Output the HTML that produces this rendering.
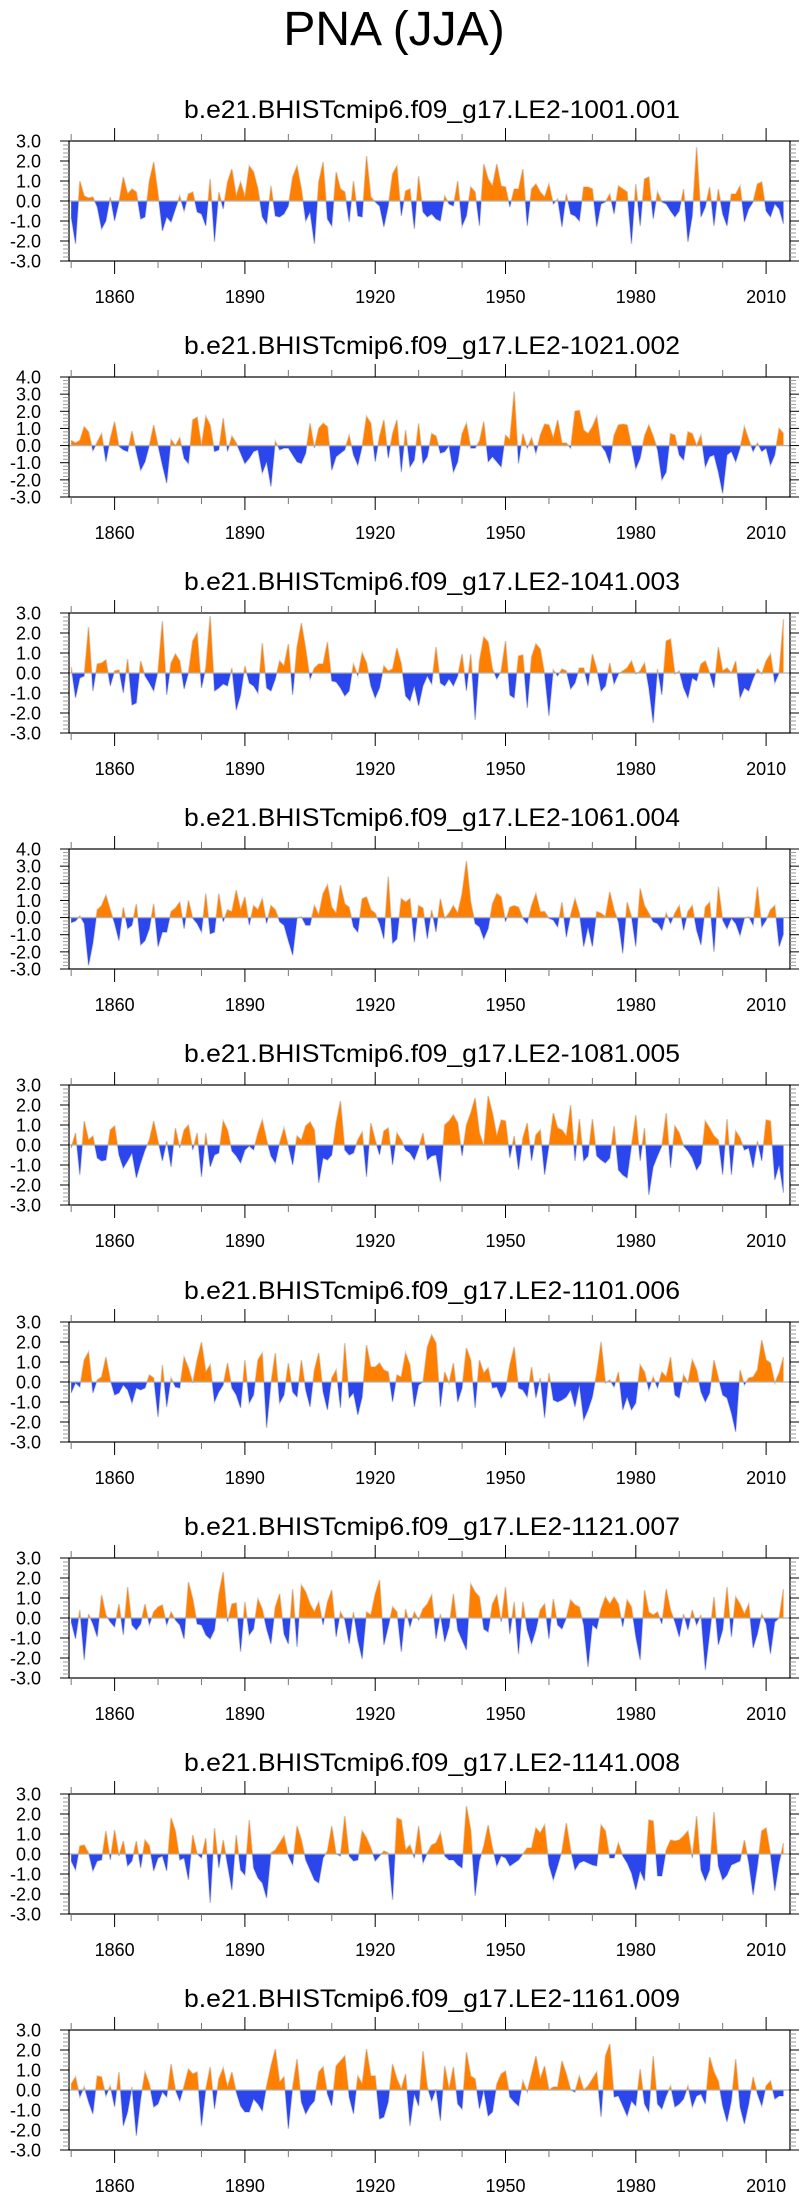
<!DOCTYPE html>
<html><head><meta charset="utf-8">
<style>
html,body{margin:0;padding:0;background:#fff;}
svg{display:block;}
text{font-family:"Liberation Sans",Arial,sans-serif;fill:#000;}
</style></head>
<body>
<svg id="chart" width="811" height="2201" viewBox="0 0 811 2201" xmlns="http://www.w3.org/2000/svg">
<text x="394" y="45" font-size="48" text-anchor="middle">PNA (JJA)</text>
</svg>
<script>
const startYear = 1850;
const yearTicks = [1860, 1890, 1920, 1950, 1980, 2010];
const panelTitles = [
 "b.e21.BHISTcmip6.f09_g17.LE2-1001.001","b.e21.BHISTcmip6.f09_g17.LE2-1021.002",
 "b.e21.BHISTcmip6.f09_g17.LE2-1041.003","b.e21.BHISTcmip6.f09_g17.LE2-1061.004",
 "b.e21.BHISTcmip6.f09_g17.LE2-1081.005","b.e21.BHISTcmip6.f09_g17.LE2-1101.006",
 "b.e21.BHISTcmip6.f09_g17.LE2-1121.007","b.e21.BHISTcmip6.f09_g17.LE2-1141.008",
 "b.e21.BHISTcmip6.f09_g17.LE2-1161.009"];
const yMaxes = [3,4,3,4,3,3,3,3,3];
const yMins = [-3,-3,-3,-3,-3,-3,-3,-3,-3];
const s1 = [-0.8,-2.15,1.0,0.25,0.15,0.2,-0.3,-1.4,-1.0,0.2,-1.0,-0.05,1.2,0.35,0.6,0.45,-0.9,-0.8,1.0,1.95,0.35,-1.5,-0.8,-1.05,-0.4,0.25,-0.5,0.35,0.45,-0.55,-0.65,-1.25,1.1,-2.05,0.45,-0.4,0.95,1.6,0.25,0.95,0.2,1.75,1.45,0.6,-0.8,-1.15,0.75,-0.75,-0.8,-0.65,-0.25,1.2,1.75,0.6,-1.0,-0.55,-2.15,0.95,1.95,-0.9,-1.25,1.45,0.6,0.45,-1.05,1.0,-0.75,-0.8,2.25,0.2,-0.05,-0.25,-1.3,-0.25,1.35,1.75,-0.75,0.5,0.6,-1.4,1.25,-0.55,-0.8,-0.65,-0.9,-1.0,0.25,-0.15,-0.25,1.0,-1.25,-0.75,0.7,0.45,-1.25,1.85,1.1,0.75,1.85,0.75,0.7,-0.3,0.6,0.6,1.6,-1.25,0.6,0.85,0.45,0.2,0.85,-0.15,0.1,-1.3,0.35,-0.65,-0.75,-1.0,0.7,0.7,0.6,-1.3,-0.15,-0.05,0.35,-0.65,0.75,0.6,0.45,-2.15,0.85,-1.25,1.1,1.2,-0.9,0.45,-0.05,-0.15,-0.5,-0.8,-0.5,0.6,-2.05,-0.75,2.7,-0.8,-0.3,0.7,-1.25,0.6,-0.65,-1.25,0.35,0.35,0.75,-1.05,-0.4,-0.05,0.85,0.95,-0.5,-0.8,-0.15,-0.4,-1.15];
const s2 = [0.3,0.15,0.3,1.1,0.8,-0.3,0.2,0.7,-0.95,0.4,1.4,-0.05,-0.25,-0.35,0.85,-0.35,-1.45,-0.95,0,1.2,0,-1.15,-2.2,0.35,0,0.45,-0.75,-1.05,1.5,1.65,0,1.7,1.2,-0.35,-0.25,1.6,-0.35,0.55,0.15,-0.45,-1.05,-0.75,-0.35,-0.25,-1.6,-0.95,-2.4,0.25,-0.25,-0.15,-0.15,-0.55,-0.95,-1.05,-0.45,1.3,-0.15,1.0,1.3,1.1,-1.45,-0.65,-0.45,-0.25,0.6,-0.55,-1.15,-0.05,1.7,1.3,-0.95,0.55,1.5,-0.75,0.7,1.5,-1.55,0.9,-1.25,-0.85,1.3,-1.05,-0.65,0.7,0.55,-0.45,-0.35,0,-1.55,-0.95,0.7,1.3,-0.15,-0.15,0.25,1.4,-0.95,-0.65,-0.95,-1.25,0.6,0.35,3.15,-1.05,0.7,-0.15,0.45,-0.45,0.6,1.25,1.2,0.45,1.5,0.15,0.15,-0.15,2.0,2.05,0.9,0.7,1.1,1.7,0,-0.35,-1.05,0.6,1.2,1.25,1.2,0,-1.35,-0.75,0.55,1.2,0.55,-0.25,-2.0,-1.55,0.7,0.6,-0.55,-0.85,0.8,0.7,0,0.6,-1.25,-0.65,-0.55,-1.55,-2.8,-0.55,-0.35,-0.95,-0.15,1.1,0.35,-0.35,0.15,-0.35,-0.15,-1.15,-0.55,1.0,0.7];
const s3 = [0.3,-1.25,-0.25,-0.15,2.3,-0.9,0.45,0.5,0.65,-0.65,0.1,0.15,-1.0,0.7,-1.6,-1.5,0.6,-0.15,-0.5,-0.9,0.1,2.6,-1.1,0.5,0.95,0.6,-0.8,0,1.6,2.0,-0.75,0.25,2.85,-0.9,-0.75,-0.55,-0.65,0.25,-1.85,-1.1,0.35,-0.5,-0.65,-1.0,1.5,-0.75,-0.9,-0.3,0.6,0.35,1.45,-1.1,1.3,2.5,1.2,-0.3,0.25,0.45,0.45,1.55,-0.4,-0.45,-0.75,-1.15,-0.9,0.45,-0.15,1.0,0.5,-0.65,-1.25,-0.75,0.35,0.1,0.2,1.25,0.45,-1.15,-1.4,-0.65,-1.65,-0.65,-0.15,-0.55,1.3,-0.5,-0.65,-0.3,-0.65,-0.15,0.95,-0.9,0.95,-2.35,0.6,1.8,1.55,0.2,-0.3,0.1,1.6,-1.1,-1.25,0.85,0.9,-1.75,0.8,1.45,1.2,-0.05,-2.15,0.15,-0.15,0.2,0.1,-0.8,-0.5,0.25,0.25,-0.65,0.95,0.2,-0.9,-0.65,0.5,-0.55,-0.05,0.1,0.25,0.6,-0.05,0.1,0.5,-0.75,-2.5,0.2,-1.1,1.6,1.7,-0.05,0.1,-0.75,-1.25,-0.25,-0.4,0.45,0.6,0,-0.75,1.3,0.1,0.25,0,0.6,-1.25,-0.75,-0.9,-0.3,0.2,-0.05,0.6,0.95,-0.5,0,2.7];
const s4 = [-0.3,-0.2,0.1,-0.35,-2.8,-1.5,0.45,0.7,1.3,0.45,-0.35,-1.35,0.6,-0.65,-0.45,0.8,-1.6,-1.35,-0.65,0.8,-1.7,-0.85,-0.85,0.35,0.55,0.9,-0.65,1.0,-0.05,-0.35,-0.85,1.4,-0.95,-0.85,1.4,-0.25,0.45,0.35,1.6,0.45,1.2,-0.45,0.7,0.45,1.1,-0.35,0.7,0.45,-0.25,-0.45,-1.35,-2.2,-0.05,0.05,-0.45,-0.45,0.7,0.15,1.4,1.9,0.6,0.25,1.9,0.8,0.6,-0.55,-0.85,1.1,1.2,0.45,0.25,-0.35,-1.25,2.4,-1.5,-1.25,1.1,0.9,1.1,-1.45,0.7,0.55,-1.25,0.45,-0.85,1.1,-0.05,0.25,0.7,0.25,1.4,3.3,0.9,-0.35,-0.55,-1.25,-0.65,0.8,1.4,1.2,-0.25,0.6,0.7,0.6,-0.05,-0.35,0.7,1.4,0.35,0.35,-0.05,-0.15,-0.55,0.9,-1.15,0.15,1.1,0.25,-1.7,-0.55,-1.7,0.35,0.25,0.05,1.5,0.45,-0.25,-2.1,0.9,0.05,-1.7,1.7,0.7,0.25,-0.25,-0.35,-0.75,0.25,-0.35,0.25,0.7,-0.75,0.35,0.7,-0.75,-1.6,0.6,0.9,-2.0,1.8,-0.15,-0.65,-0.05,-0.35,-1.05,-0.05,0.05,-0.45,1.8,-0.55,-0.15,0.45,0.7,-1.7,-0.95];
const s5 = [-0.15,0.6,-1.5,1.2,0.25,0.45,-0.65,-0.8,-0.75,0.75,0.95,-0.5,-1.15,-0.8,-0.4,-1.65,-0.9,-0.25,0.25,1.2,0.2,-0.8,0.2,-1.1,0.85,-0.15,0.75,1.0,-0.25,0.6,-1.6,0.6,-1.1,-0.5,-0.4,1.2,0.75,-0.3,-0.55,-0.9,-0.25,-0.05,-0.25,0.6,1.25,0.25,-0.55,-0.9,0.1,0.85,-0.05,-1.0,0.45,0.25,0.95,1.15,0.75,-1.9,-0.65,-0.75,-0.5,1.1,2.2,-0.25,-0.5,-0.4,0.25,0.65,-1.6,1.1,0.25,-0.5,0.7,0.85,-1.0,0.6,0.25,-0.25,-0.4,-0.75,-0.15,0.6,-0.75,-0.55,-0.5,-1.85,1.0,1.2,1.5,1.1,-0.55,1.0,1.6,2.35,0.6,-0.05,2.45,1.6,0.45,1.25,1.2,-0.65,0.45,-1.25,0.35,1.1,-0.8,0.5,0.75,-1.5,-0.05,1.6,0.85,0.75,0.45,2.0,-0.8,1.3,-0.8,-0.55,1.3,-0.55,-0.75,-0.9,-0.65,0.95,-1.25,-1.5,-1.65,-0.05,1.5,-0.8,0.85,-2.5,-1.1,-0.55,-0.05,1.6,-1.15,0.95,0.6,-0.05,-0.3,-0.65,-1.25,-0.9,1.2,0.85,0.45,0.25,-1.5,1.3,-1.5,0.7,0.35,-0.25,-0.15,-1.15,0.2,-0.8,1.25,1.2,-1.75,-1.0,-2.4];
const s6 = [-0.55,-0.05,-0.25,1.1,1.5,-0.55,0.1,0.25,1.25,0.1,-0.65,-0.55,-0.15,-0.4,-1.05,-0.3,-0.4,-0.3,0.35,0.2,-1.75,0.85,-1.25,0.2,-0.25,-0.3,1.25,0.7,-0.05,1.1,2.0,0.5,0.85,-1.0,-0.5,-0.15,0.95,-0.3,-0.65,-1.3,1.1,-1.05,-0.65,1.1,1.45,-2.3,-0.05,1.45,-1.05,-0.65,0.95,-0.5,-0.75,1.1,-0.4,-1.25,0.6,1.45,-0.5,-1.4,0.2,0.6,-1.3,1.95,-0.8,-0.55,-1.65,-0.75,1.85,0.75,0.75,0.95,0.6,0.5,-1.0,0.35,0.25,1.45,0.85,-1.25,-0.15,0,1.75,2.35,1.95,-1.25,0.5,-0.05,0.95,-1.0,-0.3,1.7,1.1,-1.3,1.1,0.45,0.7,-0.3,-0.25,-0.8,-0.4,0.85,1.75,-0.3,-0.4,-0.75,0.75,-0.8,0.2,-1.8,0.45,-0.9,-1.0,-0.9,-0.75,-0.4,-1.25,-0.15,-1.9,-1.4,-0.75,0.45,2.0,-0.05,0.1,-0.25,0.5,-1.4,-0.75,-1.4,-1.05,0.85,0.5,-0.4,0.25,-0.3,0.5,0.25,1.25,-0.65,-0.8,0.35,-0.05,1.1,0.6,-0.5,-1.0,-0.55,1.1,0.2,-0.65,-0.8,-1.55,-2.5,0.6,-0.15,0.2,0.25,0.6,2.1,1.1,0.95,-0.05,0.45,1.25];
const s7 = [-0.2,-1.05,0.4,-2.1,0.2,-0.3,-0.95,1.15,0.15,-0.2,-0.45,0.7,-0.85,1.55,-0.35,-0.6,-0.3,0.7,-0.35,0.3,0.55,0.65,-0.35,0.3,-0.1,-0.35,-1.05,1.8,0.95,-0.3,-0.35,-0.85,-1.05,-0.6,1.2,2.3,-0.2,0.7,0.75,-1.7,0.8,-0.85,-0.55,0.95,0.45,-0.55,-1.3,0.55,1.2,-0.8,-1.3,1.45,-1.45,1.65,1.3,0.7,0.3,0.8,-0.35,0.8,1.4,-0.95,0.3,-0.1,-1.3,0.3,-1.1,-2.05,0.3,0.15,1.2,1.9,-1.35,-0.45,0.55,0.3,-1.7,0.45,-0.45,0.3,-0.1,0.45,0.7,1.15,-1.05,0.2,-1.2,-0.45,1.2,-0.6,-1.1,-1.6,1.7,1.3,1.05,-0.55,-0.7,0.7,1.15,-0.2,1.55,-0.8,0.8,-1.8,0.8,-0.6,-1.3,-0.6,0.4,0.7,-1.05,0.95,-0.35,-0.55,0,0.9,0.65,0.55,-0.35,-2.45,-0.35,-0.55,0.45,1.05,0.7,1.05,0.7,-0.45,0.9,0.55,-0.95,-2.1,1.4,0.3,0.15,0.3,-0.3,1.45,0.4,-0.2,-0.95,0.2,-0.6,0.4,-0.35,0.15,-2.6,-0.8,1.05,-1.35,-0.6,1.55,-0.95,1.05,0.7,0.2,0.7,-1.5,-0.8,0.2,-0.3,-1.8,-0.2,0,1.45];
const s8 = [-0.35,-0.8,0.4,0.45,0.05,-0.85,-0.35,-0.3,1.15,-0.3,1.2,-0.1,0.65,-0.6,-0.35,0.65,-0.7,0.7,0.4,-0.85,-0.2,-0.1,-0.85,1.8,1.15,-0.3,-0.2,-1.3,0.95,0,-0.2,0.8,-2.45,1.3,-0.7,0.7,-0.55,-1.8,0.95,-0.8,-1.05,1.7,-0.7,-1.2,-1.45,-2.2,0.05,0.2,0.55,0.9,-0.1,-0.55,1.4,0.7,-0.3,-0.8,-1.3,-1.45,-0.2,0.15,1.4,0,-0.1,1.9,-0.1,-0.35,-0.3,1.15,0.8,0.3,-0.35,-0.1,0.15,0.05,-2.3,1.8,1.7,0.2,0.45,-0.2,1.4,-0.45,0.05,0.45,0.55,1.05,-0.1,-0.3,-0.3,-0.55,-0.7,2.4,1.2,-2.1,-0.35,0.4,1.45,0.3,-0.6,-0.1,-0.2,-0.6,-0.45,-0.3,0,0.3,0.3,1.3,1.05,1.45,-0.55,-1.3,-0.6,0.15,1.55,0.2,-0.8,-0.45,-0.35,-0.45,-0.55,-0.6,1.45,1.15,-0.2,-0.2,0.55,-0.1,-0.45,-0.95,-1.8,-0.85,-1.35,1.7,1.65,-1.1,-1.1,0.2,0.7,0.65,0.7,0.9,1.15,-0.2,1.9,-0.8,-1.35,-0.8,2.1,-0.6,-1.3,-1.05,-0.55,-0.45,-0.35,0.7,-0.45,-2.05,-0.6,1.15,1.3,0,-1.85,-0.45,0.55];
const s9 = [0.3,0.65,-0.35,0.15,-0.6,-1.2,0.7,0.65,-0.3,0.2,-0.85,0.9,-1.8,-1.1,0.15,-2.3,-0.45,0.9,0.3,-0.85,-0.7,-0.1,-0.35,1.3,0,-0.55,0.2,1.05,0.8,0.9,-1.8,0.05,1.15,-0.95,0.55,1.1,0.15,0.9,-0.1,-0.8,-1.1,-1.1,-0.45,-0.7,-1.05,0.2,1.2,2.05,0.4,0.65,-1.95,0.15,1.55,-0.6,-1.2,-0.8,-0.55,0.9,1.15,-0.2,-0.8,1.2,1.45,1.7,-0.35,-1.2,0.7,0.3,2.05,0.7,0.7,-1.45,-1.35,-0.6,1.3,0.55,0.05,0.8,-1.8,-0.2,-0.8,1.95,0.15,-0.55,0.05,-1.55,1.2,0.05,1.15,-0.7,-0.95,1.9,0.7,0.55,-0.95,0,-1.3,-1.1,0.3,0.8,0.95,-0.35,-0.6,-0.8,0.45,-0.1,0.8,1.7,0.55,1.2,0,0.15,0.15,1.45,0.8,0,-0.1,0.7,0,0.2,0.55,0.9,-1.35,1.7,2.3,-0.35,-0.3,-0.8,-1.3,-0.55,-0.8,1.05,-0.7,-1.1,1.7,-0.7,-0.95,-0.3,0.2,-0.85,-0.7,-0.45,0.2,-0.85,-0.3,-0.2,-0.7,1.65,0.9,0.45,-0.8,-1.6,-0.55,1.55,-0.85,-1.7,-0.7,0.65,-0.2,-0.8,0.2,0.45,-0.45,-0.3,-0.3];
const allSeries = [s1,s2,s3,s4,s5,s6,s7,s8,s9];

const NS = "http://www.w3.org/2000/svg";
const svg = document.getElementById("chart");
const X0 = 69, X1 = 790, YR0 = 1849.5, YR1 = 2015.5;
const FRAME_H = 120, TOP0 = 141, STEP = 236.1;
function xScale(yr){ return X0 + (yr - YR0) * (X1 - X0) / (YR1 - YR0); }
function mk(tag, attrs, parent){
  const e = document.createElementNS(NS, tag);
  for (const k in attrs) e.setAttribute(k, attrs[k]);
  (parent || svg).appendChild(e);
  return e;
}

allSeries.forEach(function(vals, p){
  const top = Math.round(TOP0 + p * STEP), bot = top + FRAME_H;
  const ymax = yMaxes[p], ymin = yMins[p];
  const yScale = function(v){ return top + (ymax - v) * FRAME_H / (ymax - ymin); };
  const g = mk("g", {});
  
  

  const st = mk("text", {x: 432, y: top - 23, "font-size": 25, "text-anchor": "middle", textLength: 496, lengthAdjust: "spacingAndGlyphs"}, g);
  
  
  st.textContent = panelTitles[p];

  const z = yScale(0);
  const cid = "c" + p;
  const defs = mk("defs", {}, g);
  const cpa = mk("clipPath", {id: cid + "a"}, defs);
  mk("rect", {x: X0, y: top, width: X1 - X0, height: z - top}, cpa);
  const cpb = mk("clipPath", {id: cid + "b"}, defs);
  mk("rect", {x: X0, y: z, width: X1 - X0, height: bot - z}, cpb);

  let pts = [];
  vals.forEach(function(v, i){ pts.push(xScale(startYear + i).toFixed(2) + "," + yScale(v).toFixed(2)); });
  const xa = xScale(startYear).toFixed(2), xb = xScale(startYear + vals.length - 1).toFixed(2);
  const area = "M" + xa + "," + z + " L" + pts.join(" L") + " L" + xb + "," + z + " Z";

  const line = mk("polyline", {points: pts.join(" "), fill: "none", stroke: "#d4d4d4", "stroke-width": 1.6}, g);
  
  
  const pos = mk("path", {d: area, fill: "#ff8000", "clip-path": "url(#" + cid + "a)"}, g);
  
  
  const neg = mk("path", {d: area, fill: "#2a46ec", "clip-path": "url(#" + cid + "b)"}, g);
  
  
  const zl = mk("line", {x1: X0, x2: X1, y1: z, y2: z, stroke: "#b0b0b0", "stroke-width": 1.3}, g);
  
  

  const fr = mk("rect", {x: X0, y: top, width: X1 - X0, height: FRAME_H, fill: "none", stroke: "#000", "stroke-width": 1.2}, g);
  
  

  // y ticks
  for (let k = Math.round(ymin * 5); k <= Math.round(ymax * 5); k++){
    const v = k / 5, y = yScale(v), major = (k % 5 === 0);
    const len = major ? 9 : 6, col = major ? "#000" : "#999";
    mk("line", {x1: X0 - len, x2: X0, y1: y, y2: y, stroke: col, "stroke-width": 1}, g);
    mk("line", {x1: X1, x2: X1 + len, y1: y, y2: y, stroke: col, "stroke-width": 1}, g);
    if (major){
      const t = mk("text", {x: 41, y: y + 6.5, "font-size": 18, "text-anchor": "end"}, g);
      
      
      t.textContent = v.toFixed(1);
    }
  }
  // x ticks
  for (let yr = 1850; yr <= 2010; yr += 10){
    const x = xScale(yr), major = yearTicks.indexOf(yr) >= 0;
    const len = major ? 13 : 7, col = major ? "#000" : "#777";
    mk("line", {x1: x, x2: x, y1: top - len, y2: top, stroke: col, "stroke-width": 1}, g);
    mk("line", {x1: x, x2: x, y1: bot, y2: bot + len, stroke: col, "stroke-width": 1}, g);
  }
  yearTicks.forEach(function(yr){
    const t = mk("text", {x: xScale(yr), y: bot + 42, "font-size": 18, "text-anchor": "middle"}, g);
    
    
    t.textContent = String(yr);
  });
});
</script>
</body></html>
